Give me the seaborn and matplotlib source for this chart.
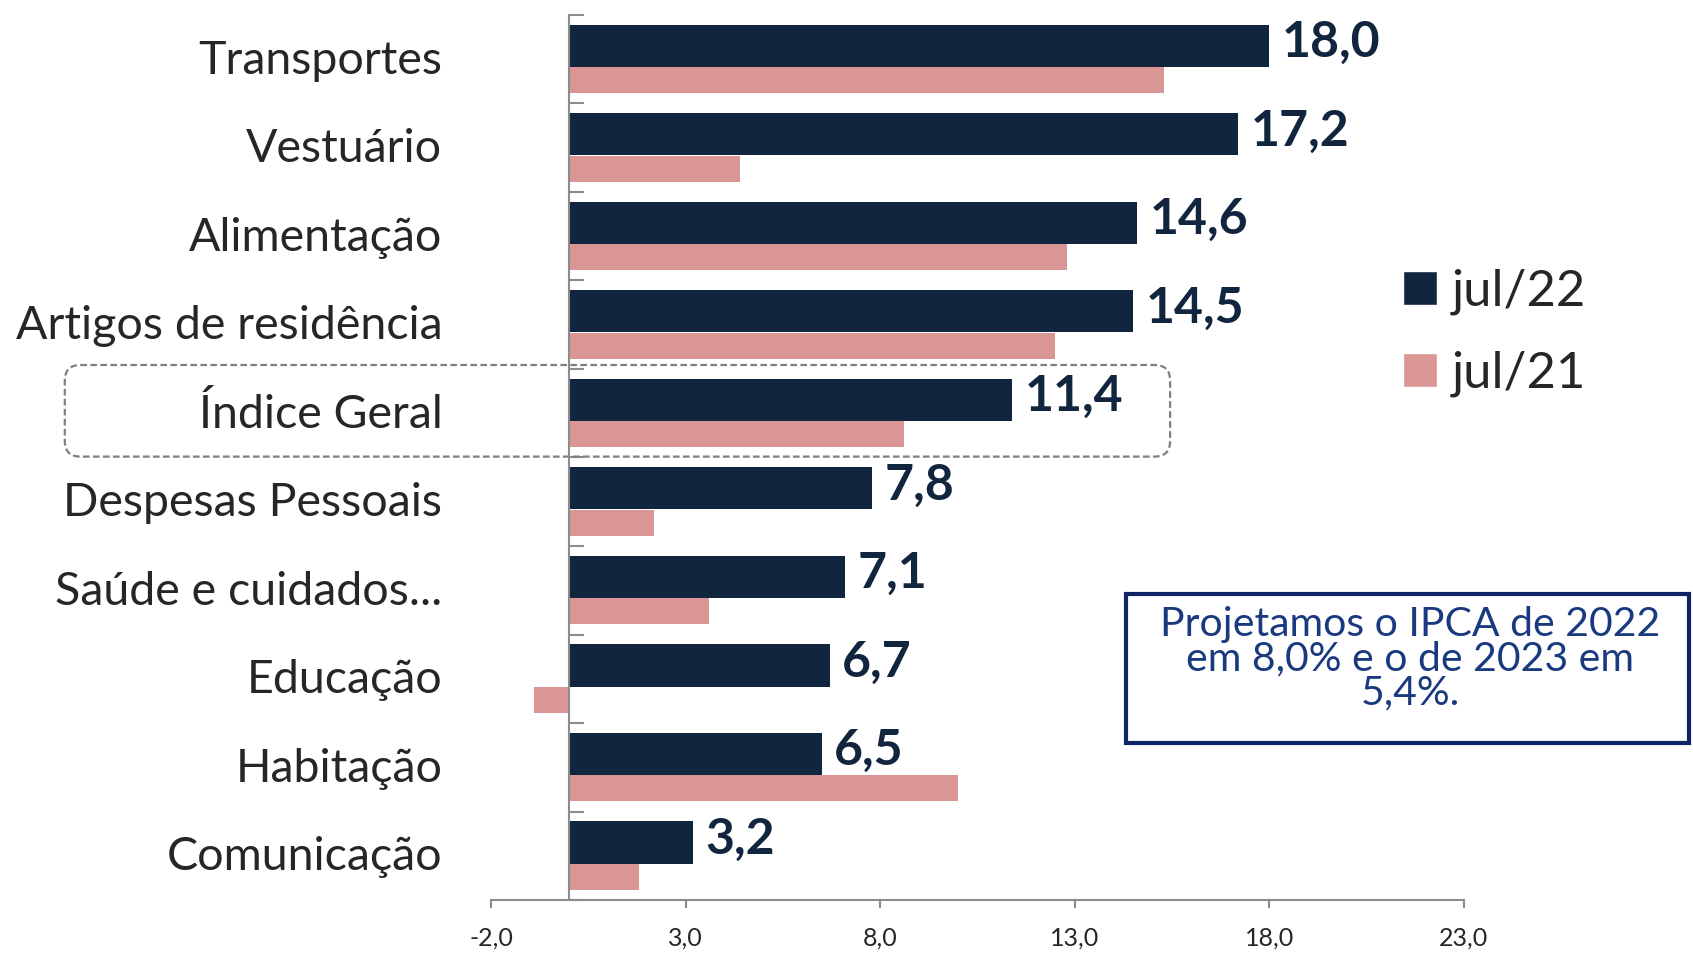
import numpy as np
import matplotlib
matplotlib.use("Agg")
import matplotlib.pyplot as plt
from matplotlib.patches import Patch, FancyBboxPatch
import seaborn as sns

# data
categorias = ['Transportes', 'Vestuário', 'Alimentação', 'Artigos de residência',
              'Índice Geral', 'Despesas Pessoais', 'Saúde e cuidados...',
              'Educação', 'Habitação', 'Comunicação']
jul22 = [18.0, 17.2, 14.6, 14.5, 11.4, 7.8, 7.1, 6.7, 6.5, 3.2]
jul21 = [15.3, 4.4, 12.8, 12.5, 8.6, 2.2, 3.6, -0.9, 10.0, 1.8]
xticks = [-2, 3, 8, 13, 18, 23]
xtick_labels = ['-2,0', '3,0', '8,0', '13,0', '18,0', '23,0']
nota = 'Projetamos o IPCA de 2022\nem 8,0% e o de 2023 em\n5,4%.'

cor22 = '#12253F'
cor21 = '#DA9694'
cinza = '#8C8C8C'

sns.set_style('white')
plt.rcParams['font.family'] = ['Lato', 'DejaVu Sans']

fig = plt.figure(figsize=(16.93, 9.59), dpi=100)
ax = fig.add_axes([0.290, 0.0615, 0.5747, 0.9229])

pos = np.arange(len(categorias))

sns.barplot(x=jul22, y=pos - 0.15, orient='y', native_scale=True, width=0.475,
            color=cor22, saturation=1, linewidth=0, ax=ax)
sns.barplot(x=jul21, y=pos + 0.237, orient='y', native_scale=True, width=0.294,
            color=cor21, saturation=1, linewidth=0, ax=ax)

ax.set_xlim(-2, 23)
ax.set_ylim(9.5, -0.5)
ax.set_xlabel('')
ax.set_ylabel('')

# value labels for jul/22
for p, v in zip(pos, jul22):
    ax.annotate(f'{v:.1f}'.replace('.', ','), xy=(v, p - 0.19), xytext=(9, 0),
                textcoords='offset points', ha='left', va='center',
                fontsize=36, fontweight='bold', color=cor22)

# axes styling
for s in ['top', 'right']:
    ax.spines[s].set_visible(False)
ax.spines['left'].set_position(('data', 0))
ax.spines['left'].set_color(cinza)
ax.spines['left'].set_linewidth(1.5)
ax.spines['bottom'].set_color(cinza)
ax.spines['bottom'].set_linewidth(1.5)

ax.set_yticks(pos - 0.03)
ax.set_yticklabels(categorias, fontsize=33.5)
ax.tick_params(axis='y', which='major', left=True, length=0, pad=91)
ax.set_yticks(np.arange(-0.5, len(categorias), 1), minor=True)
ax.tick_params(axis='y', which='minor', left=True, direction='in', length=11,
               width=1.5, color=cinza)

ax.set_xticks(xticks)
ax.set_xticklabels(xtick_labels, fontsize=18)
ax.tick_params(axis='x', which='major', bottom=True, direction='out', length=6,
               width=1.5, color=cinza, pad=13)

# dashed highlight around Índice Geral
destaque = FancyBboxPatch((-12.95, 3.455), 28.4, 1.035,
                          boxstyle='round,pad=0,rounding_size=0.4',
                          mutation_aspect=38.9 / 88.5,
                          transform=ax.transData, clip_on=False,
                          fill=False, edgecolor='#7F7F7F', linewidth=1.6,
                          linestyle=(0, (3, 1.5)))
ax.add_patch(destaque)

# legend
handles = [Patch(facecolor=cor22, label='jul/22'),
           Patch(facecolor=cor21, label='jul/21')]
fig.legend(handles=handles, loc='center left', bbox_to_anchor=(0.829, 0.653),
           frameon=False, fontsize=36.5, handlelength=0.66, handleheight=0.66,
           handletextpad=0.3, labelspacing=0.7, borderpad=0, borderaxespad=0)

# note box
fig.text(0.8330, 0.313, nota, ha='center', va='center', fontsize=29.5,
         color='#1A3A80', linespacing=0.92)
caixa = FancyBboxPatch((0.6651, 0.2252), 0.3323, 0.1554,
                       boxstyle='square,pad=0', transform=fig.transFigure,
                       fill=False, edgecolor='#0D2466', linewidth=3)
fig.patches.append(caixa)

fig.savefig('out.png', dpi=100)
